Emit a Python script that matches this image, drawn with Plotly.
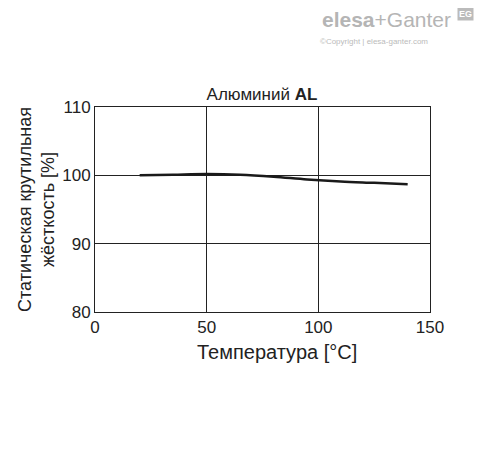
import plotly.graph_objects as go

temps = [20, 35, 50, 65, 80, 95, 110, 125, 140]
stiffness = [100.0, 100.1, 100.2, 100.1, 99.8, 99.4, 99.1, 98.9, 98.7]

fig = go.Figure()
fig.add_trace(go.Scatter(x=temps, y=stiffness, mode="lines", line=dict(color="#1a1a1a", width=2.5, shape="spline"), showlegend=False))
fig.update_layout(
    width=480, height=446, paper_bgcolor="white", plot_bgcolor="white",
    margin=dict(l=87, r=58, t=99, b=142),
    font=dict(family="Liberation Sans, Arial", size=17, color="#222"),
    title=dict(text="Алюминий <b>AL</b>", x=(254/480), xanchor="center", y=1 - 80/446, yanchor="top", font=dict(size=17)),
)
fig.add_annotation(text="<b>elesa</b>+Ganter", xref="paper", yref="paper", x=1.07, y=1.36, xanchor="right", yanchor="bottom", showarrow=False, font=dict(size=21, color="#b5b5b5"))
fig.add_annotation(text="©Copyright | elesa-ganter.com", xref="paper", yref="paper", x=1.0, y=1.29, xanchor="right", yanchor="bottom", showarrow=False, font=dict(size=8, color="#bbbbbb"))
fig.add_annotation(text="<b>EG</b>", xref="paper", yref="paper", x=1.13, y=1.42, xanchor="right", yanchor="bottom", showarrow=False, font=dict(size=9, color="white"), bgcolor="#bbbbbb")
fig.add_annotation(text="Температура [°C]", xref="paper", yref="paper", x=(277-95)/335, y=-0.13, xanchor="center", yanchor="top", showarrow=False, font=dict(size=20))
fig.update_xaxes(range=[0, 150], tickvals=[0, 50, 100, 150], showgrid=True, gridcolor="#222", gridwidth=1,
                 showline=True, linecolor="#222", mirror=True, ticks="", zeroline=False, automargin=False)
fig.update_yaxes(range=[80, 110], tickvals=[80, 90, 100, 110], showgrid=True, gridcolor="#222", gridwidth=1,
                 showline=True, linecolor="#222", mirror=True, ticks="", zeroline=False, automargin=False,
                 title=dict(text="Статическая крутильная<br>жёсткость [%]", standoff=2, font=dict(size=18)))
fig.write_html("out.html")
